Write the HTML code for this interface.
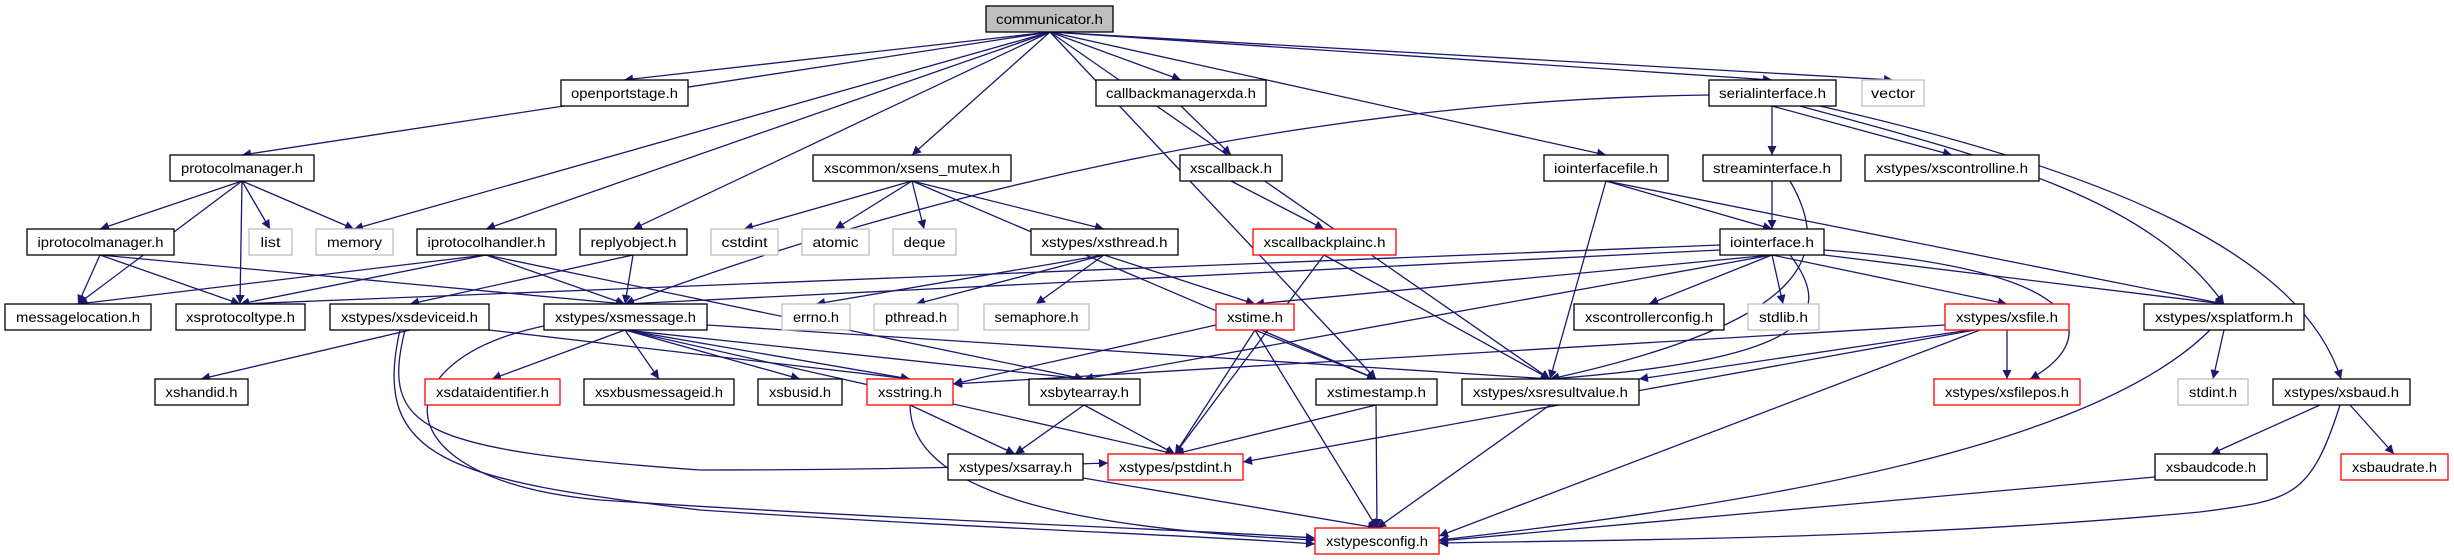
<!DOCTYPE html>
<html><head><meta charset="utf-8"><style>
html,body{margin:0;padding:0;background:#fff;}
svg{display:block;}
text{font-family:"Liberation Sans",sans-serif;font-size:14px;fill:#000;}
.e{stroke:#191970;stroke-width:1.3;fill:none;marker-end:url(#a);}
.n{fill:#fff;stroke:#000;stroke-width:1.3;}
.g{fill:#fff;stroke:#bfbfbf;stroke-width:1.3;}
.r{fill:#fff;stroke:#ff0000;stroke-width:1.3;}
.c{fill:#bfbfbf;stroke:#000;stroke-width:1.3;}
</style></head><body>
<svg width="2454" height="560" viewBox="0 0 2454 560" xmlns="http://www.w3.org/2000/svg">
<defs><marker id="a" viewBox="0 0 10 10" refX="10" refY="5" markerWidth="11" markerHeight="9" markerUnits="userSpaceOnUse" orient="auto"><path d="M0,0 L10,5 L0,10 z" fill="#191970"/></marker></defs>
<g>
<line class="e" x1="1050" y1="32" x2="242" y2="155"/>
<line class="e" x1="1050" y1="32" x2="624" y2="80"/>
<line class="e" x1="1050" y1="32" x2="354" y2="229"/>
<line class="e" x1="1050" y1="32" x2="486" y2="229"/>
<line class="e" x1="1050" y1="32" x2="633" y2="229"/>
<line class="e" x1="1050" y1="32" x2="912" y2="155"/>
<line class="e" x1="1050" y1="32" x2="1181" y2="80"/>
<line class="e" x1="1050" y1="32" x2="1376" y2="379"/>
<line class="e" x1="1050" y1="32" x2="1550" y2="379"/>
<line class="e" x1="1050" y1="32" x2="1606" y2="155"/>
<line class="e" x1="1050" y1="32" x2="1772" y2="80"/>
<line class="e" x1="1050" y1="32" x2="1893" y2="80"/>
<line class="e" x1="242" y1="181" x2="78" y2="304"/>
<line class="e" x1="242" y1="181" x2="100" y2="229"/>
<line class="e" x1="242" y1="181" x2="270" y2="229"/>
<line class="e" x1="242" y1="181" x2="354" y2="229"/>
<line class="e" x1="242" y1="181" x2="240" y2="304"/>
<line class="e" x1="100" y1="255" x2="78" y2="304"/>
<line class="e" x1="100" y1="255" x2="240" y2="304"/>
<line class="e" x1="100" y1="255" x2="625" y2="304"/>
<line class="e" x1="486" y1="255" x2="78" y2="304"/>
<line class="e" x1="486" y1="255" x2="240" y2="304"/>
<line class="e" x1="486" y1="255" x2="625" y2="304"/>
<line class="e" x1="486" y1="255" x2="1084" y2="379"/>
<line class="e" x1="633" y1="255" x2="410" y2="304"/>
<line class="e" x1="633" y1="255" x2="625" y2="304"/>
<line class="e" x1="912" y1="181" x2="744" y2="229"/>
<line class="e" x1="912" y1="181" x2="835" y2="229"/>
<line class="e" x1="912" y1="181" x2="924" y2="229"/>
<line class="e" x1="912" y1="181" x2="1104" y2="229"/>
<line class="e" x1="912" y1="181" x2="1376" y2="379"/>
<line class="e" x1="1181" y1="106" x2="1231" y2="155"/>
<line class="e" x1="1231" y1="181" x2="1324" y2="229"/>
<line class="e" x1="1324" y1="255" x2="1175" y2="454"/>
<line class="e" x1="1324" y1="255" x2="1550" y2="379"/>
<path class="e" d="M1709,95 C1300,100 900,200 625,304"/>
<line class="e" x1="1772" y1="106" x2="1772" y2="155"/>
<line class="e" x1="1772" y1="106" x2="1952" y2="155"/>
<path class="e" d="M1800,106 C2000,160 2150,200 2224,304"/>
<path class="e" d="M1820,106 C2100,170 2300,250 2341,379"/>
<line class="e" x1="1606" y1="181" x2="1772" y2="229"/>
<line class="e" x1="1606" y1="181" x2="1550" y2="379"/>
<line class="e" x1="1606" y1="181" x2="2224" y2="304"/>
<line class="e" x1="1772" y1="181" x2="1772" y2="229"/>
<path class="e" d="M1790,181 C1830,250 1820,320 1550,379"/>
<line class="e" x1="1720" y1="245" x2="240" y2="304"/>
<line class="e" x1="1720" y1="250" x2="625" y2="304"/>
<line class="e" x1="1772" y1="255" x2="1255" y2="304"/>
<line class="e" x1="1772" y1="255" x2="1084" y2="379"/>
<line class="e" x1="1772" y1="255" x2="1649" y2="304"/>
<line class="e" x1="1772" y1="255" x2="1783" y2="304"/>
<path class="e" d="M1790,255 C1840,320 1800,360 1550,379"/>
<line class="e" x1="1772" y1="255" x2="2007" y2="304"/>
<path class="e" d="M1824,250 C2100,270 2100,340 2030,379"/>
<line class="e" x1="1824" y1="255" x2="2224" y2="304"/>
<line class="e" x1="1104" y1="255" x2="816" y2="304"/>
<line class="e" x1="1104" y1="255" x2="916" y2="304"/>
<line class="e" x1="1104" y1="255" x2="1036" y2="304"/>
<line class="e" x1="1104" y1="255" x2="1255" y2="304"/>
<line class="e" x1="625" y1="330" x2="492" y2="379"/>
<line class="e" x1="625" y1="330" x2="659" y2="379"/>
<line class="e" x1="625" y1="330" x2="800" y2="379"/>
<line class="e" x1="625" y1="330" x2="910" y2="379"/>
<line class="e" x1="625" y1="330" x2="1084" y2="379"/>
<line class="e" x1="625" y1="330" x2="1175" y2="454"/>
<line class="e" x1="707" y1="325" x2="1550" y2="379"/>
<path class="e" d="M544,326 C380,360 380,480 600,500 C900,520 1200,530 1315,538"/>
<line class="e" x1="410" y1="330" x2="201" y2="379"/>
<line class="e" x1="489" y1="330" x2="910" y2="379"/>
<path class="e" d="M405,330 C380,430 420,450 700,470 C900,470 1050,465 1108,463"/>
<path class="e" d="M400,330 C370,460 450,480 700,510 C1000,530 1200,535 1315,544"/>
<line class="e" x1="1255" y1="330" x2="1376" y2="379"/>
<line class="e" x1="1255" y1="330" x2="1175" y2="454"/>
<line class="e" x1="1255" y1="330" x2="1377" y2="528"/>
<line class="e" x1="1216" y1="325" x2="953" y2="384"/>
<line class="e" x1="910" y1="405" x2="1015" y2="454"/>
<path class="e" d="M910,405 C910,500 1100,530 1315,540"/>
<line class="e" x1="1084" y1="405" x2="1015" y2="454"/>
<line class="e" x1="1084" y1="405" x2="1175" y2="454"/>
<line class="e" x1="1376" y1="405" x2="1175" y2="454"/>
<line class="e" x1="1376" y1="405" x2="1377" y2="528"/>
<line class="e" x1="1550" y1="405" x2="1377" y2="528"/>
<line class="e" x1="1083" y1="478" x2="1377" y2="528"/>
<line class="e" x1="1945" y1="325" x2="953" y2="384"/>
<line class="e" x1="2007" y1="330" x2="2007" y2="379"/>
<line class="e" x1="1970" y1="330" x2="1639" y2="379"/>
<line class="e" x1="1975" y1="330" x2="1243" y2="462"/>
<line class="e" x1="1980" y1="330" x2="1439" y2="536"/>
<line class="e" x1="2224" y1="330" x2="2213" y2="379"/>
<path class="e" d="M2210,330 C2100,440 1800,500 1439,540"/>
<line class="e" x1="2320" y1="405" x2="2211" y2="454"/>
<line class="e" x1="2350" y1="405" x2="2394" y2="454"/>
<path class="e" d="M2340,405 C2310,500 2290,500 2200,512 C1900,540 1600,540 1439,543"/>
<line class="e" x1="2155" y1="477" x2="1439" y2="541"/>
</g>
<g>
<rect class="c" x="986" y="6" width="127" height="26"/><text x="1049.5" y="24" text-anchor="middle" textLength="107" lengthAdjust="spacingAndGlyphs">communicator.h</text>
<rect class="n" x="561" y="80" width="127" height="26"/><text x="624.5" y="98" text-anchor="middle" textLength="107" lengthAdjust="spacingAndGlyphs">openportstage.h</text>
<rect class="n" x="1096" y="80" width="170" height="26"/><text x="1181" y="98" text-anchor="middle" textLength="150" lengthAdjust="spacingAndGlyphs">callbackmanagerxda.h</text>
<rect class="n" x="1709" y="80" width="127" height="26"/><text x="1772.5" y="98" text-anchor="middle" textLength="107" lengthAdjust="spacingAndGlyphs">serialinterface.h</text>
<rect class="g" x="1862" y="80" width="62" height="26"/><text x="1893" y="98" text-anchor="middle" textLength="44" lengthAdjust="spacingAndGlyphs">vector</text>
<rect class="n" x="170" y="155" width="144" height="26"/><text x="242" y="173" text-anchor="middle" textLength="122" lengthAdjust="spacingAndGlyphs">protocolmanager.h</text>
<rect class="n" x="813" y="155" width="198" height="26"/><text x="912" y="173" text-anchor="middle" textLength="176" lengthAdjust="spacingAndGlyphs">xscommon/xsens_mutex.h</text>
<rect class="n" x="1180" y="155" width="102" height="26"/><text x="1231" y="173" text-anchor="middle" textLength="82" lengthAdjust="spacingAndGlyphs">xscallback.h</text>
<rect class="n" x="1544" y="155" width="124" height="26"/><text x="1606" y="173" text-anchor="middle" textLength="104" lengthAdjust="spacingAndGlyphs">iointerfacefile.h</text>
<rect class="n" x="1703" y="155" width="138" height="26"/><text x="1772" y="173" text-anchor="middle" textLength="118" lengthAdjust="spacingAndGlyphs">streaminterface.h</text>
<rect class="n" x="1865" y="155" width="174" height="26"/><text x="1952" y="173" text-anchor="middle" textLength="152" lengthAdjust="spacingAndGlyphs">xstypes/xscontrolline.h</text>
<rect class="n" x="27" y="229" width="147" height="26"/><text x="100.5" y="247" text-anchor="middle" textLength="126" lengthAdjust="spacingAndGlyphs">iprotocolmanager.h</text>
<rect class="g" x="249" y="229" width="43" height="26"/><text x="270.5" y="247" text-anchor="middle" textLength="20" lengthAdjust="spacingAndGlyphs">list</text>
<rect class="g" x="316" y="229" width="77" height="26"/><text x="354.5" y="247" text-anchor="middle" textLength="55" lengthAdjust="spacingAndGlyphs">memory</text>
<rect class="n" x="417" y="229" width="139" height="26"/><text x="486.5" y="247" text-anchor="middle" textLength="118" lengthAdjust="spacingAndGlyphs">iprotocolhandler.h</text>
<rect class="n" x="580" y="229" width="107" height="26"/><text x="633.5" y="247" text-anchor="middle" textLength="86" lengthAdjust="spacingAndGlyphs">replyobject.h</text>
<rect class="g" x="711" y="229" width="67" height="26"/><text x="744.5" y="247" text-anchor="middle" textLength="46" lengthAdjust="spacingAndGlyphs">cstdint</text>
<rect class="g" x="802" y="229" width="67" height="26"/><text x="835.5" y="247" text-anchor="middle" textLength="46" lengthAdjust="spacingAndGlyphs">atomic</text>
<rect class="g" x="893" y="229" width="63" height="26"/><text x="924.5" y="247" text-anchor="middle" textLength="42" lengthAdjust="spacingAndGlyphs">deque</text>
<rect class="n" x="1031" y="229" width="147" height="26"/><text x="1104.5" y="247" text-anchor="middle" textLength="126" lengthAdjust="spacingAndGlyphs">xstypes/xsthread.h</text>
<rect class="r" x="1253" y="229" width="143" height="26"/><text x="1324.5" y="247" text-anchor="middle" textLength="122" lengthAdjust="spacingAndGlyphs">xscallbackplainc.h</text>
<rect class="n" x="1720" y="229" width="104" height="26"/><text x="1772" y="247" text-anchor="middle" textLength="84" lengthAdjust="spacingAndGlyphs">iointerface.h</text>
<rect class="n" x="5" y="304" width="146" height="26"/><text x="78" y="322" text-anchor="middle" textLength="124" lengthAdjust="spacingAndGlyphs">messagelocation.h</text>
<rect class="n" x="176" y="304" width="129" height="26"/><text x="240.5" y="322" text-anchor="middle" textLength="109" lengthAdjust="spacingAndGlyphs">xsprotocoltype.h</text>
<rect class="n" x="330" y="304" width="159" height="26"/><text x="409.5" y="322" text-anchor="middle" textLength="137" lengthAdjust="spacingAndGlyphs">xstypes/xsdeviceid.h</text>
<rect class="n" x="544" y="304" width="163" height="26"/><text x="625.5" y="322" text-anchor="middle" textLength="141" lengthAdjust="spacingAndGlyphs">xstypes/xsmessage.h</text>
<rect class="g" x="782" y="304" width="68" height="26"/><text x="816" y="322" text-anchor="middle" textLength="46" lengthAdjust="spacingAndGlyphs">errno.h</text>
<rect class="g" x="874" y="304" width="84" height="26"/><text x="916" y="322" text-anchor="middle" textLength="62" lengthAdjust="spacingAndGlyphs">pthread.h</text>
<rect class="g" x="984" y="304" width="105" height="26"/><text x="1036.5" y="322" text-anchor="middle" textLength="84" lengthAdjust="spacingAndGlyphs">semaphore.h</text>
<rect class="r" x="1216" y="304" width="78" height="26"/><text x="1255" y="322" text-anchor="middle" textLength="56" lengthAdjust="spacingAndGlyphs">xstime.h</text>
<rect class="n" x="1574" y="304" width="150" height="26"/><text x="1649" y="322" text-anchor="middle" textLength="128" lengthAdjust="spacingAndGlyphs">xscontrollerconfig.h</text>
<rect class="g" x="1748" y="304" width="71" height="26"/><text x="1783.5" y="322" text-anchor="middle" textLength="49" lengthAdjust="spacingAndGlyphs">stdlib.h</text>
<rect class="r" x="1945" y="304" width="124" height="26"/><text x="2007" y="322" text-anchor="middle" textLength="102" lengthAdjust="spacingAndGlyphs">xstypes/xsfile.h</text>
<rect class="n" x="2144" y="304" width="160" height="26"/><text x="2224" y="322" text-anchor="middle" textLength="138" lengthAdjust="spacingAndGlyphs">xstypes/xsplatform.h</text>
<rect class="n" x="155" y="379" width="93" height="26"/><text x="201.5" y="397" text-anchor="middle" textLength="72" lengthAdjust="spacingAndGlyphs">xshandid.h</text>
<rect class="r" x="425" y="379" width="135" height="26"/><text x="492.5" y="397" text-anchor="middle" textLength="113" lengthAdjust="spacingAndGlyphs">xsdataidentifier.h</text>
<rect class="n" x="584" y="379" width="150" height="26"/><text x="659" y="397" text-anchor="middle" textLength="128" lengthAdjust="spacingAndGlyphs">xsxbusmessageid.h</text>
<rect class="n" x="758" y="379" width="84" height="26"/><text x="800" y="397" text-anchor="middle" textLength="62" lengthAdjust="spacingAndGlyphs">xsbusid.h</text>
<rect class="r" x="867" y="379" width="86" height="26"/><text x="910" y="397" text-anchor="middle" textLength="64" lengthAdjust="spacingAndGlyphs">xsstring.h</text>
<rect class="n" x="1029" y="379" width="111" height="26"/><text x="1084.5" y="397" text-anchor="middle" textLength="89" lengthAdjust="spacingAndGlyphs">xsbytearray.h</text>
<rect class="n" x="1316" y="379" width="121" height="26"/><text x="1376.5" y="397" text-anchor="middle" textLength="99" lengthAdjust="spacingAndGlyphs">xstimestamp.h</text>
<rect class="n" x="1462" y="379" width="177" height="26"/><text x="1550.5" y="397" text-anchor="middle" textLength="155" lengthAdjust="spacingAndGlyphs">xstypes/xsresultvalue.h</text>
<rect class="r" x="1934" y="379" width="146" height="26"/><text x="2007" y="397" text-anchor="middle" textLength="124" lengthAdjust="spacingAndGlyphs">xstypes/xsfilepos.h</text>
<rect class="g" x="2178" y="379" width="70" height="26"/><text x="2213" y="397" text-anchor="middle" textLength="48" lengthAdjust="spacingAndGlyphs">stdint.h</text>
<rect class="n" x="2273" y="379" width="137" height="26"/><text x="2341.5" y="397" text-anchor="middle" textLength="115" lengthAdjust="spacingAndGlyphs">xstypes/xsbaud.h</text>
<rect class="n" x="948" y="454" width="135" height="26"/><text x="1015.5" y="472" text-anchor="middle" textLength="113" lengthAdjust="spacingAndGlyphs">xstypes/xsarray.h</text>
<rect class="r" x="1108" y="454" width="135" height="26"/><text x="1175.5" y="472" text-anchor="middle" textLength="113" lengthAdjust="spacingAndGlyphs">xstypes/pstdint.h</text>
<rect class="n" x="2155" y="454" width="112" height="26"/><text x="2211" y="472" text-anchor="middle" textLength="90" lengthAdjust="spacingAndGlyphs">xsbaudcode.h</text>
<rect class="r" x="2341" y="454" width="107" height="26"/><text x="2394.5" y="472" text-anchor="middle" textLength="85" lengthAdjust="spacingAndGlyphs">xsbaudrate.h</text>
<rect class="r" x="1315" y="528" width="124" height="26"/><text x="1377" y="546" text-anchor="middle" textLength="102" lengthAdjust="spacingAndGlyphs">xstypesconfig.h</text>
</g>
</svg>
</body></html>
